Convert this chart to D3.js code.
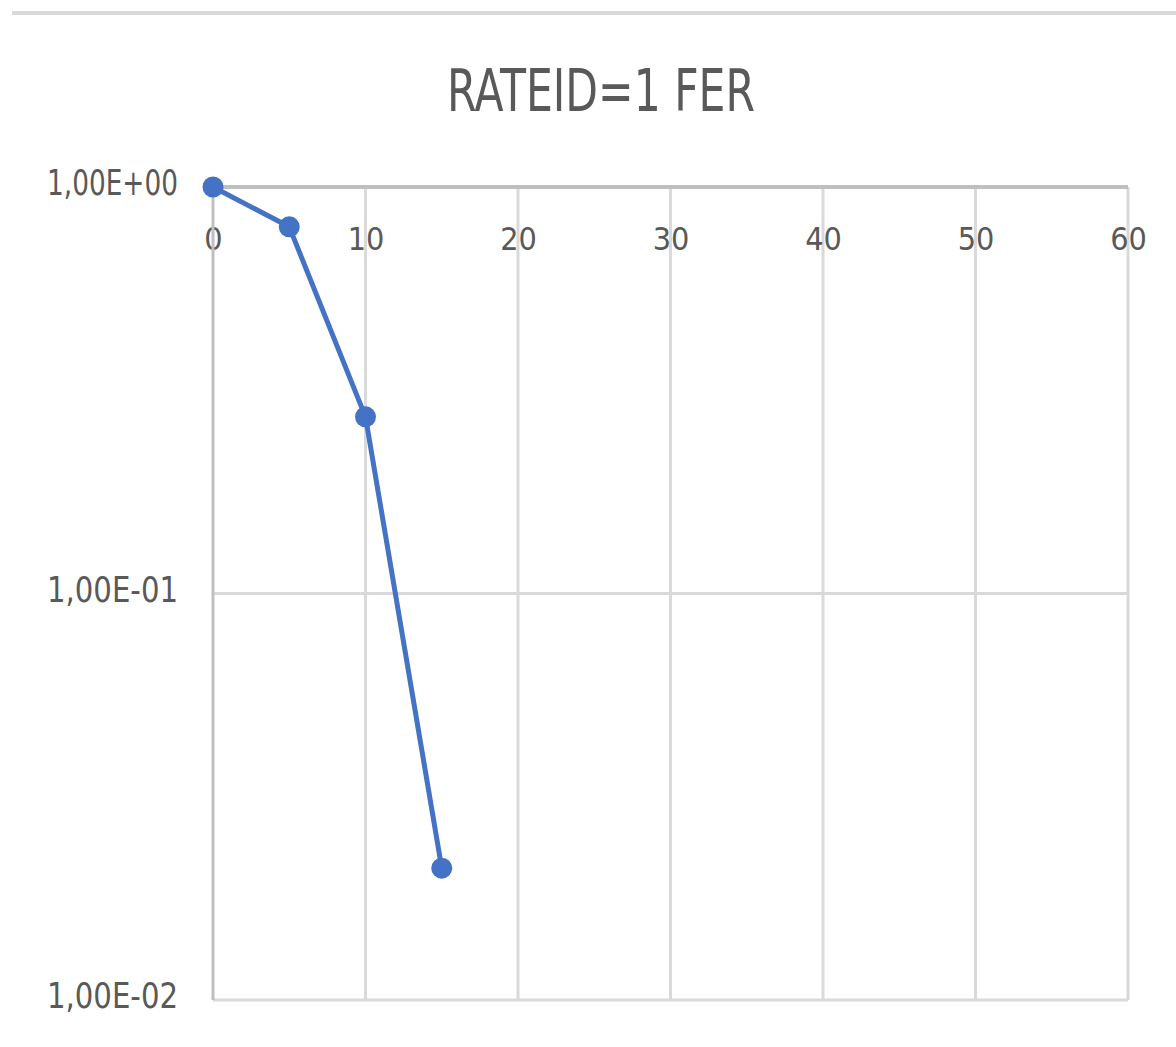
<!DOCTYPE html>
<html>
<head>
<meta charset="utf-8">
<script src="https://cdn.jsdelivr.net/npm/d3@7"></script>
<style>
  body { margin: 0; background: #fff; }
  text { font-family: "Liberation Sans Narrow", "DejaVu Sans Condensed", "Liberation Sans", sans-serif; fill: #595959; }
</style>
</head>
<body>
<div id="chart"></div>
<script>
// chart data
var title = "RATEID=1 FER";
var xValues = [0, 5, 10, 15];
var ferValues = [1.0, 0.798, 0.272, 0.0211];
var xTicks = [0, 10, 20, 30, 40, 50, 60];
var yTicks = [1, 0.1, 0.01];
var yTickLabels = ["1,00E+00", "1,00E-01", "1,00E-02"];

var width = 1176, height = 1047;
var margin = { top: 187, left: 213, right: 48, bottom: 47 };
var w = width - margin.left - margin.right,
  h = height - margin.top - margin.bottom;

var svg = d3.select("#chart")
  .append("svg")
  .attr("width", width)
  .attr("height", height);

// thin band at the very top
svg.append("rect")
  .attr("x", 12).attr("y", 11)
  .attr("width", width - 12).attr("height", 4)
  .attr("fill", "#d9d9d9");

svg.append("text")
  .attr("x", 601)
  .attr("y", 111)
  .attr("text-anchor", "middle")
  .attr("font-size", 58)
  .attr("textLength", 308)
  .attr("lengthAdjust", "spacingAndGlyphs")
  .text(title);

var g = svg.append("g")
  .attr("transform", "translate(" + margin.left + "," + margin.top + ")");

var x = d3.scaleLinear().domain([0, 60]).range([0, w]);
var y = d3.scaleLog().domain([0.01, 1]).range([h, 0]);

// vertical gridlines
g.append("g")
  .selectAll("line")
  .data(xTicks.slice(1))
  .enter()
  .append("line")
  .attr("x1", function (d) { return x(d); })
  .attr("x2", function (d) { return x(d); })
  .attr("y1", 0)
  .attr("y2", h)
  .attr("stroke", "#d9d9d9")
  .attr("stroke-width", 3);

// horizontal gridlines
g.append("g")
  .selectAll("line")
  .data(yTicks.slice(1))
  .enter()
  .append("line")
  .attr("x1", 0)
  .attr("x2", w)
  .attr("y1", function (d) { return y(d); })
  .attr("y2", function (d) { return y(d); })
  .attr("stroke", "#d9d9d9")
  .attr("stroke-width", 3);

// x axis sits on the top line (y = 1), labels below it
var xAxis = g.append("g")
  .call(d3.axisBottom(x).tickValues(xTicks).tickSize(0).tickPadding(40));
xAxis.select(".domain").remove();
xAxis.selectAll("text")
  .attr("font-size", 32)
  .attr("dy", "0.71em")
  .style("fill", "#595959");

g.append("line")
  .attr("x1", 0).attr("x2", w)
  .attr("y1", y(1)).attr("y2", y(1))
  .attr("stroke", "#bfbfbf")
  .attr("stroke-width", 4);

// y axis
var yAxis = g.append("g")
  .call(d3.axisLeft(y).tickValues(yTicks).tickSize(0).tickPadding(35)
    .tickFormat(function (d, i) { return yTickLabels[i]; }));
yAxis.select(".domain").remove();
yAxis.selectAll("text")
  .attr("font-size", 35)
  .attr("dy", "0.22em")
  .attr("textLength", 131)
  .attr("lengthAdjust", "spacingAndGlyphs")
  .style("fill", "#595959");

g.append("line")
  .attr("x1", 0).attr("x2", 0)
  .attr("y1", 0).attr("y2", h)
  .attr("stroke", "#bfbfbf")
  .attr("stroke-width", 3);

// series
var data = xValues.map(function (d, i) { return { x: d, v: ferValues[i] }; });

g.append("path")
  .datum(data)
  .attr("fill", "none")
  .attr("stroke", "#4472c4")
  .attr("stroke-width", 5)
  .attr("stroke-linejoin", "round")
  .attr("d", d3.line()
    .x(function (d) { return x(d.x); })
    .y(function (d) { return y(d.v); }));

g.selectAll("circle")
  .data(data)
  .enter()
  .append("circle")
  .attr("cx", function (d) { return x(d.x); })
  .attr("cy", function (d) { return y(d.v); })
  .attr("r", 10.5)
  .attr("fill", "#4472c4");
</script>
</body>
</html>
